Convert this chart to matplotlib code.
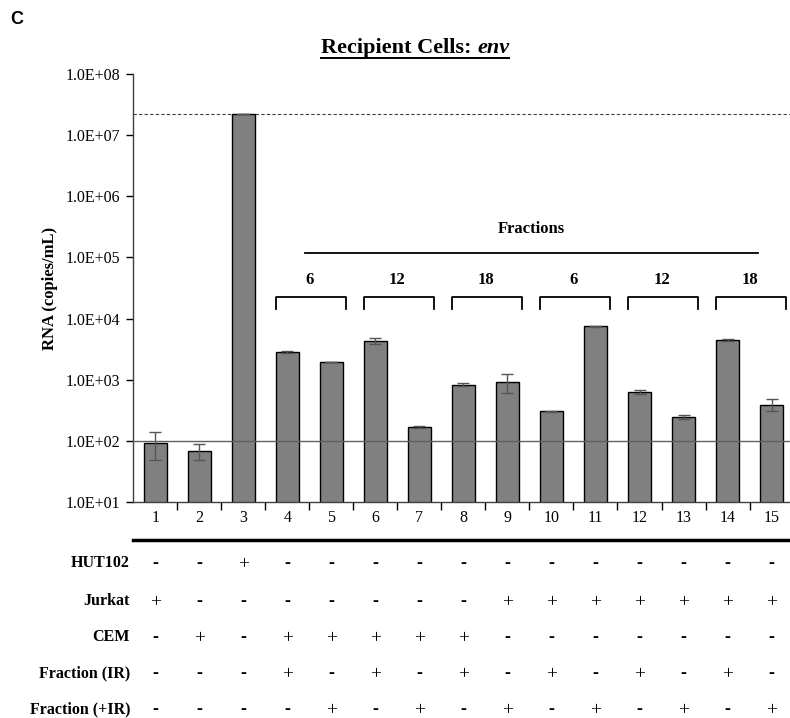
import numpy as np
import matplotlib
matplotlib.use("Agg")
from matplotlib import pyplot as plt
from matplotlib.lines import Line2D
import matplotlib.transforms as mtransforms

# bar data (copies/mL)
samples = np.arange(1, 16)
rna = [93, 68, 2.2e7, 2840, 1945, 4290, 168, 828, 927, 307, 7430, 637, 245, 4460, 391]
rna_err = [45, 20, 0, 150, 15, 500, 8, 50, 320, 5, 100, 50, 15, 200, 85]
detection_limit = 100
hut102_level = 2.2e7

fraction_pairs = [(4, 5), (6, 7), (8, 9), (10, 11), (12, 13), (14, 15)]
fraction_labels = ['6', '12', '18', '6', '12', '18']

row_names = ['HUT102', 'Jurkat', 'CEM', 'Fraction (IR)', 'Fraction (+IR)']
row_signs = [
    '--+------------',
    '+-------+++++++',
    '-+-+++++-------',
    '---+-+-+-+-+-+-',
    '----+-+-+-+-+-+',
]

serif = 'Liberation Serif'
plt.rcParams['font.family'] = serif

fig = plt.figure(figsize=(7.9, 7.18), dpi=100)
W, H = 790, 718
ax = fig.add_axes([133 / W, 1 - 502 / H, 657 / W, 428 / H])

ax.bar(samples, rna, width=0.52, color='#808080', edgecolor='black', linewidth=1.0, zorder=2)
ax.errorbar(samples, rna, yerr=rna_err, fmt='none', ecolor='#555555', elinewidth=1.0,
            capsize=4, capthick=1.0, zorder=3)
ax.axhline(detection_limit, color='#606060', linewidth=1.0, zorder=4)
ax.axhline(hut102_level, color='#404040', linewidth=0.8, linestyle=(0, (3, 2)), zorder=1)

ax.set_yscale('log')
ax.set_ylim(10, 1e8)
ax.set_xlim(0.49, 15.42)
ax.set_yticks([10 ** k for k in range(1, 9)])
ax.set_yticklabels(['1.0E+%02d' % k for k in range(1, 9)], fontsize=11.5)
ax.yaxis.set_minor_locator(matplotlib.ticker.NullLocator())
ax.set_xticks(np.arange(1.5, 15, 1))
ax.set_xticklabels([])
ax.set_xticks(samples, minor=True)
ax.set_xticklabels([str(s) for s in samples], minor=True, fontsize=11.5)
ax.tick_params(axis='x', which='minor', length=0, pad=6)
ax.tick_params(axis='x', which='major', direction='out', length=6, width=1)
ax.tick_params(axis='y', direction='out', length=5, width=1, pad=4)
for side in ['top', 'right']:
    ax.spines[side].set_visible(False)
for side in ['left', 'bottom']:
    ax.spines[side].set_linewidth(1.0)
    ax.spines[side].set_color('#404040')

ax.set_ylabel('RNA (copies/mL)', fontsize=12, fontweight='bold', labelpad=6)

# fractions annotation
ax.plot([4.40, 14.69], [1.19e5, 1.19e5], color='black', linewidth=1.3, clip_on=False)
ax.text(9.55, 2.9e5, 'Fractions', ha='center', va='center', fontsize=12, fontweight='bold')
for (a, b), lab in zip(fraction_pairs, fraction_labels):
    x0, x1 = a - 0.27, b + 0.34
    ax.plot([x0, x0, x1, x1], [1.45e4, 2.27e4, 2.27e4, 1.45e4], color='black',
            linewidth=1.3, clip_on=False)
    ax.text((a + b) / 2, 4.2e4, lab, ha='center', va='center', fontsize=12, fontweight='bold')

# condition table under the axis
trans = mtransforms.blended_transform_factory(ax.transData, fig.transFigure)
fig.add_artist(Line2D([133 / W, 1.0], [1 - 540 / H, 1 - 540 / H], color='black', linewidth=2.5))
row_y = [563, 601, 637, 673, 709]
for name, signs, yp in zip(row_names, row_signs, row_y):
    fy = 1 - yp / H
    fig.text(130 / W, fy, name, ha='right', va='center', fontsize=11.5, fontweight='bold')
    for s, ch in zip(samples, signs):
        if ch == '+':
            ax.text(s, fy - 2 / H, '+', transform=trans, ha='center', va='center',
                    fontsize=14, clip_on=False)
        else:
            ax.text(s, fy, '-', transform=trans, ha='center', va='center',
                    fontsize=13, fontweight='bold', clip_on=False)

# panel letter and underlined title
fig.text(10 / W, 1 - 20 / H, 'C', fontsize=13, fontweight='bold', family='Liberation Sans',
         ha='left', va='center')
renderer = fig.canvas.get_renderer()
t1 = fig.text(321 / W, 1 - 48 / H, 'Recipient Cells: ', fontsize=16, fontweight='bold',
              ha='left', va='center')
bb1 = t1.get_window_extent(renderer)
t2 = fig.text(bb1.x1 / W, 1 - 48 / H, 'env', fontsize=16, fontweight='bold', style='italic',
              ha='left', va='center')
bb2 = t2.get_window_extent(renderer)
fig.add_artist(Line2D([bb1.x0 / W, bb2.x1 / W], [1 - 58 / H, 1 - 58 / H], color='black',
                      linewidth=1.4))

fig.savefig('out.png', dpi=100)
